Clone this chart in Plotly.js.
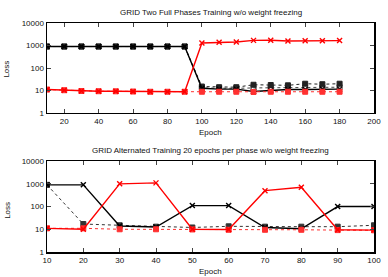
<!DOCTYPE html>
<html><head><meta charset="utf-8">
<script src="https://cdn.plot.ly/plotly-3.0.1.min.js"></script>
<style>html,body{margin:0;padding:0;background:#fff;}#chart{width:388px;height:277px;}</style>
</head><body><div id="chart"></div>
<script>
// Top chart: two full phases
const epochsTop = [10,20,30,40,50,60,70,80,90,100,110,120,130,140,150,160,170,180];
const topBlackSolid = [900,900,900,900,900,900,900,900,900,12.5,11.5,11.5,9,10,11,11,11.5,11.5];
const topBlackSq    = [900,900,900,900,900,900,900,900,900,15,14,14,18,17.5,17,20,19,20];
const topBlackOpen  = [900,900,900,900,900,900,900,900,900,13,12.5,12.5,13,13,13,13.5,13.5,14];
const topRedSolid   = [11,10.3,9.5,9.3,9.2,9,8.8,8.8,8.8,1300,1380,1420,1690,1700,1580,1620,1620,1650];
const topRedSq      = [11,10.3,9.5,9.3,9.2,9,8.8,8.8,8.8,8.8,8.8,8.8,8.6,8.8,8.8,8.8,8.8,8.8];

// Bottom chart: alternated training
const epochsBot = [10,20,30,40,50,60,70,80,90,100];
const botBlackSolid = [900,900,14,12.5,110,110,12,10.5,100,100];
const botBlackSq    = [900,17,15,13,12,13.5,13,13,13,15];
const botRedSolid   = [11,10,1000,1100,10,9.8,500,700,9.5,9.2];
const botRedSq      = [11,11,10,10,9.8,9.5,9.5,9.5,9.2,9];

const yTickVals = [1,10,100,1000,10000];
const yTickText = ['1','10','100','1000','10000'];
const titleTop = 'GRID Two Full Phases Training w/o weight freezing';
const titleBot = 'GRID Alternated Training 20 epochs per phase w/o weight freezing';

function solid(x,y,color,xa,ya,sym){
  return {x:x,y:y,xaxis:xa,yaxis:ya,type:'scatter',mode:'lines+markers',
    line:{color:color,width:1.4},marker:{symbol:sym,size:5,color:color,line:{color:color,width:1.4}},showlegend:false};
}
function dotted(x,y,color,xa,ya,sym){
  return {x:x,y:y,xaxis:xa,yaxis:ya,type:'scatter',mode:'lines+markers',
    line:{color:color,width:1,dash:'dot'},marker:{symbol:sym,size:5,color:color,line:{color:color,width:1}},showlegend:false};
}

const data = [
  dotted(epochsTop, topBlackOpen, '#444', 'x','y','square-open'),
  dotted(epochsTop, topBlackSq, '#222', 'x','y','square'),
  solid(epochsTop, topBlackSolid, '#000', 'x','y','x-thin-open'),
  dotted(epochsTop, topRedSq, '#ff3030', 'x','y','square'),
  solid(epochsTop, topRedSolid, '#ff0000', 'x','y','x-thin-open'),
  dotted(epochsBot, botBlackSq, '#333', 'x2','y2','square'),
  solid(epochsBot, botBlackSolid, '#000', 'x2','y2','x-thin-open'),
  dotted(epochsBot, botRedSq, '#ff3030', 'x2','y2','square'),
  solid(epochsBot, botRedSolid, '#ff0000', 'x2','y2','x-thin-open')
];

const axFont = {family:'Liberation Sans, Arial, sans-serif', size:8, color:'#111'};
function yax(domain, anchor){
  return {type:'log', range:[0,4], domain:domain, anchor:anchor, tickvals:yTickVals, ticktext:yTickText,
    ticks:'inside', ticklen:4, showline:true, linecolor:'#000', linewidth:1.5, mirror:'ticks',
    showgrid:false, zeroline:false, tickfont:axFont};
}
function xax(range, dtick, tick0, anchor){
  return {range:range, dtick:dtick, tick0:tick0, anchor:anchor, ticks:'inside', ticklen:4,
    showline:true, linecolor:'#000', linewidth:1.5, mirror:'ticks', showgrid:false, zeroline:false, tickfont:axFont};
}

const topX = xax([10,200], 20, 0, 'y');
topX.tickvals = [20,40,60,80,100,120,140,160,180,200];
const layout = {
  width:388, height:277, paper_bgcolor:'#fff', plot_bgcolor:'#fff',
  margin:{l:47, r:14, t:23, b:25},
  font:axFont,
  xaxis: topX,
  yaxis: yax([0.607,1], 'x'),
  xaxis2: xax([10,100], 10, 10, 'y2'),
  yaxis2: yax([0,0.397], 'x2'),
  annotations:[
    {text:titleTop, xref:'paper', yref:'paper', x:0.5, y:1.048, showarrow:false, font:axFont, xanchor:'center', yanchor:'middle'},
    {text:titleBot, xref:'paper', yref:'paper', x:0.5, y:0.445, showarrow:false, font:axFont, xanchor:'center', yanchor:'middle'},
    {text:'Epoch', xref:'paper', yref:'paper', x:0.5, y:0.52, showarrow:false, font:axFont, xanchor:'center', yanchor:'middle'},
    {text:'Epoch', xref:'paper', yref:'paper', x:0.5, y:-0.083, showarrow:false, font:axFont, xanchor:'center', yanchor:'middle'},
    {text:'Loss', xref:'paper', yref:'paper', x:-0.123, y:0.8, textangle:-90, showarrow:false, font:axFont, xanchor:'center', yanchor:'middle'},
    {text:'Loss', xref:'paper', yref:'paper', x:-0.123, y:0.183, textangle:-90, showarrow:false, font:axFont, xanchor:'center', yanchor:'middle'}
  ]
};
Plotly.newPlot('chart', data, layout, {staticPlot:true, displayModeBar:false});
</script></body></html>
